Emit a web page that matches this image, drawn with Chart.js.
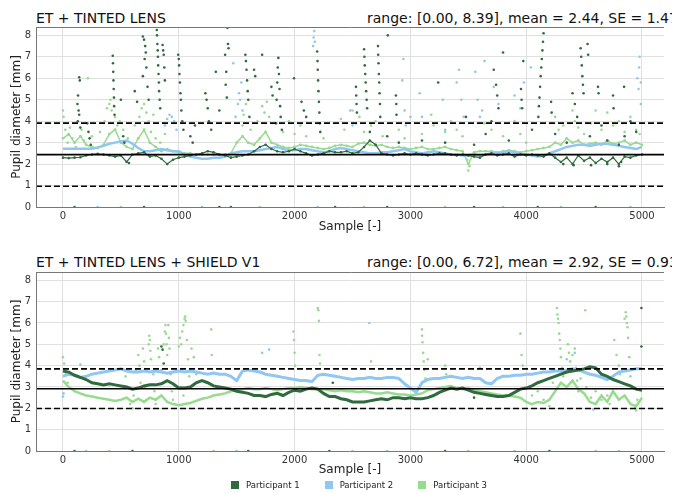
<!DOCTYPE html>
<html>
<head>
<meta charset="utf-8">
<script src="https://cdn.jsdelivr.net/npm/chart.js@4.4.1/dist/chart.umd.min.js"></script>
<style>
  body { margin: 0; width: 682px; height: 493px; overflow: hidden; background: #fff; position: relative; font-family: "DejaVu Sans", sans-serif; }
  .title { position: absolute; font-size: 14px; color: #111; white-space: nowrap; overflow: hidden; }
  canvas { position: absolute; left: 0; }
  #legend { position: absolute; top: 480px; left: 231px; font-size: 8.5px; color: #222; white-space: nowrap; }
  #legend span.box { display: inline-block; width: 8px; height: 8px; vertical-align: -1px; margin-right: 7px; }
  #legend span.lab { margin-right: 25px; }
</style>
</head>
<body>
<div class="title" style="left:36px;top:10px">ET + TINTED LENS</div>
<div class="title" style="left:367px;top:10px;width:305px">range: [0.00, 8.39], mean = 2.44, SE = 1.47</div>
<canvas id="top-chart" width="682" height="240" style="top:0"></canvas>
<div class="title" style="left:36px;top:254px">ET + TINTED LENS + SHIELD V1</div>
<div class="title" style="left:367px;top:254px;width:305px">range: [0.00, 6.72], mean = 2.92, SE = 0.93</div>
<canvas id="bottom-chart" width="682" height="240" style="top:245px"></canvas>
<div id="legend"></div>
<script>
var participants = ['Participant 1', 'Participant 2', 'Participant 3'];
var colors = ['#2f6b3e', '#8fc6f3', '#97dc8e'];
var sampleTicks = [0, 1000, 2000, 3000, 4000, 5000];
var yTicks = [0, 1, 2, 3, 4, 5, 6, 7, 8];
var xMin = -233, xMax = 5190, yMax = 8.39;

// mean and SE of each condition
var topStats = [2.44, 1.47];
var bottomStats = [2.92, 0.93];

// band values read every 50 samples (0 .. 5000)
var topP1Band = [2.3, 2.28, 2.3, 2.32, 2.4, 2.45, 2.48, 2.45, 2.4, 2.35,
  2.4, 2.1, 2.45, 2.5, 2.55, 2.35, 2.4, 2.25, 2.0, 2.2,
  2.3, 2.35, 2.4, 2.45, 2.5, 2.6, 2.55, 2.45, 2.4, 2.3,
  2.35, 2.4, 2.45, 2.6, 2.8, 2.9, 2.7, 2.6, 2.55, 2.6,
  2.7, 2.6, 2.5, 2.4, 2.45, 2.5, 2.6, 2.55, 2.55, 2.6,
  2.5, 2.55, 2.8, 3.1, 2.9, 2.5, 2.45, 2.4, 2.45, 2.5,
  2.45, 2.5, 2.45, 2.4, 2.45, 2.5, 2.5, 2.45, 2.4, 2.45,
  2.4, 2.35, 2.3, 2.45, 2.5, 2.4, 2.45, 2.5, 2.35, 2.45,
  2.4, 2.45, 2.4, 2.35, 2.5, 2.3, 2.1, 2.3, 2.0, 2.4,
  2.15, 2.3, 2.05, 2.25, 2.1, 2.3, 2.0, 2.35, 2.3, 2.4,
  2.45];
var topP2Band = [2.72, 2.72, 2.72, 2.72, 2.72, 2.72, 2.78, 2.85, 2.95, 3.0,
  3.05, 3.1, 2.95, 2.75, 2.6, 2.6, 2.65, 2.7, 2.65, 2.6,
  2.6, 2.45, 2.35, 2.3, 2.25, 2.25, 2.3, 2.3, 2.35, 2.5,
  2.55, 2.6, 2.6, 2.6, 2.65, 2.7, 2.75, 2.8, 2.7, 2.65,
  2.65, 2.7, 2.7, 2.65, 2.6, 2.55, 2.6, 2.7, 2.75, 2.7,
  2.65, 2.6, 2.55, 2.5, 2.5, 2.55, 2.55, 2.6, 2.65, 2.7,
  2.6, 2.55, 2.5, 2.55, 2.6, 2.55, 2.5, 2.45, 2.45, 2.4,
  2.4, 2.45, 2.4, 2.45, 2.5, 2.5, 2.55, 2.6, 2.55, 2.5,
  2.45, 2.4, 2.35, 2.4, 2.5, 2.6, 2.7, 2.8, 2.85, 2.9,
  2.9, 2.85, 2.9, 2.95, 2.95, 2.9, 2.85, 2.8, 2.75, 2.7,
  2.8];
var topP3Band = [3.2, 3.4, 3.0, 3.3, 2.9, 2.8, 2.75, 2.9, 3.4, 3.6,
  3.0, 2.8, 2.7, 3.2, 3.6, 3.0, 2.8, 2.6, 2.7, 2.6,
  2.55, 2.5, 2.5, 2.45, 2.45, 2.45, 2.45, 2.45, 2.45, 2.5,
  3.0, 3.3, 3.0, 2.9, 3.2, 3.5, 3.0, 2.9, 2.8, 2.75,
  2.8, 2.9, 2.85, 2.8, 2.75, 2.7, 2.75, 2.85, 2.9, 2.85,
  2.8, 2.95, 3.0, 2.9, 2.85, 2.9, 2.8, 2.75, 2.8, 2.75,
  2.7, 2.75, 2.8, 2.7, 2.7, 2.75, 2.8, 2.7, 2.65, 2.6,
  2.0, 2.55, 2.6, 2.6, 2.6, 2.55, 2.6, 2.65, 2.6, 2.55,
  2.6, 2.65, 2.7, 2.75, 2.8, 3.0, 2.9, 3.2, 3.0, 3.1,
  2.9, 2.95, 3.0, 2.9, 3.1, 2.95, 3.0, 3.1, 2.9, 3.0,
  2.9];
var bottomP1Band = [3.75, 3.7, 3.55, 3.45, 3.35, 3.2, 3.15, 3.1, 3.15, 3.1,
  3.05, 3.0, 2.9, 2.95, 3.05, 3.1, 3.1, 3.15, 3.3, 3.15,
  2.95, 2.95, 3.0, 3.2, 3.3, 3.2, 3.05, 3.0, 2.95, 2.9,
  2.8, 2.75, 2.7, 2.6, 2.6, 2.55, 2.65, 2.7, 2.6, 2.75,
  2.85, 2.8, 2.9, 2.95, 2.9, 2.7, 2.55, 2.55, 2.45, 2.4,
  2.3, 2.3, 2.3, 2.35, 2.4, 2.45, 2.4, 2.5, 2.5, 2.45,
  2.5, 2.45, 2.45, 2.5, 2.6, 2.75, 2.85, 2.95, 2.9, 2.95,
  2.85, 2.75, 2.7, 2.65, 2.6, 2.55, 2.55, 2.6, 2.75, 2.9,
  2.95, 3.05, 3.2, 3.3, 3.4, 3.5, 3.6, 3.7, 3.75, 3.8,
  3.85, 3.95, 3.9, 3.6, 3.5, 3.35, 3.25, 3.15, 3.05, 2.9,
  2.85];
var bottomP2Band = [3.5, 3.6, 3.55, 3.45, 3.5, 3.6, 3.65, 3.7, 3.75, 3.8,
  3.85, 3.75, 3.7, 3.7, 3.75, 3.7, 3.75, 3.7, 3.65, 3.7,
  3.75, 3.7, 3.75, 3.7, 3.65, 3.6, 3.65, 3.6, 3.6, 3.5,
  3.3, 3.75, 3.8, 3.75, 3.7, 3.6, 3.55, 3.5, 3.45, 3.4,
  3.35, 3.3, 3.3, 3.25, 3.55, 3.6, 3.55, 3.5, 3.45, 3.4,
  3.35, 3.4, 3.4, 3.45, 3.4, 3.4, 3.45, 3.45, 3.4, 3.15,
  2.95, 2.75, 3.2, 3.35, 3.4, 3.4, 3.45, 3.5, 3.45, 3.4,
  3.45, 3.4, 3.4, 3.2, 3.15, 3.4, 3.5, 3.5, 3.55, 3.55,
  3.6, 3.6, 3.65, 3.7, 3.7, 3.75, 3.75, 3.8, 3.85, 3.8,
  3.7, 3.6, 3.55, 3.45, 3.35, 3.5, 3.7, 3.75, 3.8, 3.85,
  3.85];
var bottomP3Band = [3.3, 3.0, 2.8, 2.7, 2.6, 2.55, 2.5, 2.45, 2.4, 2.35,
  2.4, 2.5, 2.3, 2.45, 2.3, 2.5, 2.4, 2.6, 2.3, 2.2,
  2.15, 2.2, 2.25, 2.35, 2.45, 2.5, 2.6, 2.65, 2.7, 2.8,
  2.85, 2.9, 2.95, 2.9, 2.9, 2.95, 2.9, 2.85, 2.9, 2.95,
  2.95, 3.0, 2.95, 2.9, 2.9, 2.9, 2.85, 2.8, 2.85, 2.8,
  2.8, 2.75, 2.8, 2.75, 2.7, 2.7, 2.75, 2.7, 2.65, 2.65,
  2.6, 2.65, 2.7, 2.85, 2.9, 2.95, 3.0, 3.05, 2.95, 2.9,
  2.95, 2.85, 2.8, 2.75, 2.7, 2.65, 2.6, 2.6, 2.55, 2.5,
  2.3, 2.2, 2.3, 2.25, 2.4, 2.8, 3.2, 3.0, 3.3, 2.9,
  2.7, 2.3, 2.2, 2.6, 2.3, 2.8, 2.4, 2.6, 2.2, 2.1,
  2.5];

// scattered samples [sample, diameter] read from the spikes
var topP1Dots = [[140,6.05],[145,5.9],[130,5.2],[125,4.8],[135,4.5],[140,4.3],[128,4.0],[150,3.7],
  [210,3.9],[220,3.5],[230,3.2],[240,2.9],
  [430,7.05],[432,6.7],[434,6.3],[436,5.9],[438,5.5],[440,5.1],[442,4.7],[445,4.3],
  [500,5.0],[520,3.3],[530,3.0],[570,2.05],[620,5.4],[640,4.9],
  [690,7.95],[700,7.8],[710,7.5],[715,7.2],[705,6.9],[720,6.5],[690,6.1],[730,5.6],[740,5.0],
  [810,8.25],[812,8.0],[815,7.6],[818,7.3],[820,7.0],[822,6.6],[825,6.2],[828,5.8],[830,5.4],[835,5.0],[840,4.6],
  [860,7.55],[865,7.3],[870,7.1],[875,6.5],[880,5.9],
  [995,7.1],[1000,6.9],[1003,6.6],[1006,6.2],[1010,5.8],[1014,5.3],[1018,5.0],[1022,4.5],[1030,4.0],[1040,3.6],
  [1100,3.3],[1120,3.0],[1140,3.8],[1230,5.3],[1240,5.0],[1250,4.6],[1260,4.0],[1280,3.6],
  [1320,6.3],[1350,4.5],[1420,8.35],[1425,7.6],[1430,7.4],[1400,7.1],[1410,6.3],[1405,5.7],[1415,5.1],
  [1575,7.1],[1580,6.8],[1585,6.4],[1590,5.9],[1595,5.4],[1600,5.0],[1610,4.2],
  [1650,6.4],[1660,6.1],[1720,7.1],[1800,5.6],[1810,5.2],
  [1860,6.95],[1855,6.5],[1865,6.2],[1850,5.8],[1870,5.5],[1845,5.0],[1875,4.7],[1880,4.2],[1840,3.9],[1890,3.6],
  [1995,6.0],[2060,4.9],[2080,4.5],[2100,4.2],
  [2195,7.25],[2198,6.8],[2200,6.4],[2203,5.9],[2206,5.4],[2210,4.9],[2214,4.4],[2218,3.9],[2222,3.5],
  [2530,5.6],[2532,5.2],[2535,4.8],[2538,4.4],
  [2600,7.35],[2603,7.0],[2606,6.6],[2610,6.2],[2614,5.8],[2618,5.4],[2622,5.0],[2626,4.6],
  [2720,7.5],[2722,7.1],[2725,6.7],[2728,6.2],[2731,5.8],[2734,5.3],[2737,4.8],[2740,4.2],
  [2805,8.0],[2875,5.2],[2878,4.8],[2880,4.3],[3240,5.8],[3480,4.2],
  [3720,6.4],[3740,5.7],[3750,5.2],[3760,4.6],[3700,4.0],[3800,7.2],
  [3955,5.5],[3960,5.0],[3965,4.6],[3975,6.8],
  [4150,8.1],[4145,7.7],[4140,7.3],[4135,6.9],[4130,6.5],[4125,6.1],[4120,5.6],[4115,5.1],[4110,4.7],[4105,4.2],
  [4215,4.9],[4220,4.4],[4400,5.3],[4420,4.8],[4440,4.2],
  [4470,7.4],[4475,7.0],[4480,6.6],[4485,6.1],[4490,5.7],[4495,5.3],[4530,7.6],[4535,7.1],
  [4620,5.6],[4625,5.3],[4750,5.2],[4755,4.6],[4845,5.6],[4900,4.0],[4950,3.5],
  [2650,3.5],[2800,3.3],[2900,3.0],[3100,3.1],[3300,3.0],[3550,2.9],[3650,3.4],[3850,3.1],
  [4050,3.6],[4250,3.4],[4350,3.0],[4550,3.3],[4650,3.8],[4700,3.1],[4800,2.9],[4850,3.3],
  [4320,2.0],[4410,1.95],[4560,1.95],[4700,2.0],[4800,1.9],[4820,2.1],
  [100,0],[700,0],[1350,0],[1450,0],[2350,0],[2800,0],[3550,0],[4100,0],[4600,0]];
var topP2Dots = [[880,3.8],[900,4.1],[920,4.3],[940,4.2],[960,4.0],[980,3.6],
  [1490,4.2],[1510,4.8],[1520,5.3],[1530,5.0],[1540,5.8],[1550,4.5],[1470,6.7],
  [2160,7.5],[2165,7.9],[2170,8.2],[2175,7.7],[2480,4.5],[2500,3.8],
  [2930,5.9],[2940,6.9],[2950,4.5],[2960,3.8],[3000,4.2],[3080,5.3],[3100,4.2],[3280,5.0],[3300,3.6],
  [3400,5.8],[3420,6.4],[3440,5.0],[3460,4.2],[3560,6.3],[3580,5.0],[3600,4.2],[3640,6.8],
  [3720,5.6],[3760,4.8],[3900,5.2],[3950,4.6],[3980,5.8],[4040,6.5],
  [4960,6.0],[4970,5.5],[4975,6.5],[4980,7.0],[4990,4.8],[4990,5.8],
  [300,0],[1200,0],[2200,0],[3800,0],[4900,0]];
var topP3Dots = [[0,4.5],[5,4.2],[20,3.6],[40,3.0],[60,3.7],[80,3.2],[110,2.8],[160,3.6],[180,3.1],[250,3.3],[215,6.0],
  [320,3.5],[360,4.0],[380,4.6],[400,4.8],[410,5.0],[420,4.5],[450,4.2],[470,3.8],[490,4.0],[520,3.6],[560,3.2],
  [620,3.8],[660,4.2],[680,4.6],[700,4.8],[720,4.4],[740,4.0],[760,3.5],[780,4.3],[800,3.2],[840,3.0],[880,3.4],
  [1550,3.8],[1560,4.3],[1580,4.8],[1620,3.6],[1680,4.0],[1720,4.7],[1740,4.4],[1760,4.9],[1780,4.2],
  [1900,3.5],[1950,4.0],[2000,3.4],[2050,3.8],[2100,3.3],[2250,3.2],[2400,4.1],[2430,3.6],[2500,4.5],[2530,3.9],
  [2560,4.2],[2600,3.5],[2660,3.8],[2700,4.0],[2760,3.3],[2900,3.6],[2950,3.2],[3100,3.4],[3180,4.3],[3200,3.8],
  [3300,3.5],[3350,4.0],[3400,3.6],[3450,3.3],[3500,1.7],[3510,1.9],[3490,2.2],[3620,4.5],[3640,3.9],[3700,3.6],
  [3800,3.3],[3900,4.0],[3950,3.4],[4000,3.0],[4250,4.2],[4280,3.6],[4320,3.8],[4400,4.5],[4420,4.0],[4450,3.7],
  [4500,3.4],[4560,3.9],[4600,4.5],[4650,3.6],[4700,4.4],[4750,3.8],[4800,4.0],[4850,3.5],[4900,4.2],[4950,3.6],[4980,3.4],
  [500,0],[1700,0],[2600,0],[3300,0],[4300,0]];
var bottomP1Dots = [[850,4.9],[860,4.75],[870,4.1],[2330,3.2],[3550,2.5],[4995,6.7],[4995,4.9],
  [100,0],[600,0],[1600,0],[2300,0],[3300,0],[4200,0]];
var bottomP2Dots = [[0,2.55],[5,2.7],[150,4.05],[1720,4.6],[1780,4.75],[2645,6.0],[4350,4.3],[4420,4.6],[4580,1.95],
  [200,0],[1500,0],[2800,0],[3900,0],[4800,0]];
var bottomP3Dots = [[0,4.4],[10,4.1],[25,3.6],[40,3.2],
  [540,3.5],[560,3.0],[580,2.2],[600,2.0],[610,2.6],
  [630,3.8],[650,4.5],[660,4.0],[670,3.2],[690,4.8],[700,4.2],[710,3.0],[720,2.4],
  [740,5.0],[745,5.4],[750,5.2],[755,4.7],[760,4.3],[780,3.6],[790,2.8],[800,2.2],
  [820,4.8],[830,4.4],[850,3.8],[860,3.2],[870,5.0],[880,5.6],[885,5.9],[890,5.5],[895,5.0],[900,4.5],
  [910,5.9],[915,5.3],[920,4.8],[930,3.6],[940,2.8],[950,2.4],
  [1000,4.9],[1010,5.3],[1020,5.0],[1030,5.6],[1040,5.9],[1050,6.2],[1055,6.3],[1060,6.1],[1070,5.2],[1080,4.3],
  [1090,3.5],[1020,3.0],[1040,2.6],[1110,4.8],[1130,4.4],[1150,3.6],[1280,5.7],[1285,4.5],
  [1990,5.6],[1995,5.2],[2000,4.6],[2005,4.0],[2200,6.7],[2205,6.6],[2210,6.1],[2215,4.5],[2220,4.1],[2660,4.2],
  [3100,5.7],[3102,5.4],[3105,5.1],[3110,4.6],[3115,4.2],[3120,3.8],[3130,3.4],[3150,4.3],
  [3300,4.0],[3310,3.6],[3600,3.9],[3950,5.5],[3960,4.5],[3970,4.0],
  [4020,3.0],[4050,2.6],[4100,2.8],[4150,2.4],[4200,2.1],[4230,3.2],
  [4265,6.7],[4270,6.4],[4275,6.2],[4280,6.0],[4285,5.5],[4290,5.2],[4295,4.8],[4300,4.4],[4310,3.9],[4320,3.5],
  [4360,5.0],[4370,4.6],[4380,4.2],[4400,4.5],[4420,4.8],[4430,3.9],[4440,3.3],[4450,2.8],[4470,3.4],[4510,6.6],
  [4520,3.0],[4560,2.5],[4600,2.8],[4650,2.4],[4700,2.6],[4720,2.2],
  [4760,5.2],[4780,4.5],[4800,4.0],[4810,3.6],
  [4850,6.2],[4860,6.5],[4865,6.3],[4870,6.0],[4875,5.8],[4880,5.3],[4890,4.4],[4900,3.5],[4920,3.0],[4940,2.0],[4950,1.9],[4960,2.4],
  [400,0],[1300,0],[2500,0],[3500,0],[4600,0]];

var bandSamples = [];
for (var s = 0; s <= 5000; s += 50) bandSamples.push(s);

function bandPoints(values) {
    return values.map(function(v, i) { return {x: bandSamples[i], y: v}; });
}
function dotPoints(pairs) {
    return pairs.map(function(p) { return {x: p[0], y: p[1]}; });
}
function refLine(y, dashed) {
    return {
        data: [{x: xMin, y: y}, {x: xMax, y: y}],
        showLine: true, borderColor: '#000', borderWidth: 1.6,
        borderDash: dashed ? [6, 3] : [], pointRadius: 0, order: 0
    };
}
function bandSet(values, idx, width, pts) {
    return {
        data: bandPoints(values), showLine: true, borderColor: colors[idx],
        borderWidth: width, pointRadius: pts, backgroundColor: colors[idx],
        pointBorderWidth: 0, order: idx + 1
    };
}
function dotSet(pairs, idx) {
    return {
        data: dotPoints(pairs), showLine: false, backgroundColor: colors[idx],
        pointRadius: 1.3, pointBorderWidth: 0, order: idx + 1
    };
}

var framePlugin = {
    id: 'frame',
    afterDraw: function(chart) {
        var ctx = chart.ctx, a = chart.chartArea;
        ctx.save();
        ctx.strokeStyle = '#777';
        ctx.lineWidth = 1;
        ctx.beginPath();
        ctx.moveTo(a.left + 0.5, a.bottom);
        ctx.lineTo(a.left + 0.5, a.top + 0.5);
        ctx.lineTo(a.right, a.top + 0.5);
        ctx.stroke();
        ctx.restore();
    }
};

function makeConfig(datasets, xHeight, titlePad) {
    return {
        type: 'scatter',
        data: {datasets: datasets},
        plugins: [framePlugin],
        options: {
            responsive: false,
            animation: false,
            layout: {padding: {top: 27, right: 18, left: 0, bottom: 0}},
            plugins: {legend: {display: false}, tooltip: {enabled: false}},
            scales: {
                x: {
                    type: 'linear', min: xMin, max: xMax,
                    afterBuildTicks: function(scale) { scale.ticks = sampleTicks.map(function(v) { return {value: v}; }); },
                    afterFit: function(scale) { scale.height = xHeight; },
                    grid: {color: '#e0e0e0', drawTicks: false},
                    border: {color: '#777'},
                    ticks: {padding: 3, color: '#333', font: {size: 10, family: 'DejaVu Sans'}, maxRotation: 0, autoSkip: false,
                            callback: function(v) { return String(v); }},
                    title: {display: true, text: 'Sample [-]', color: '#222', font: {size: 12, family: 'DejaVu Sans'},
                            padding: {top: 0, bottom: titlePad}}
                },
                y: {
                    min: 0, max: yMax,
                    afterBuildTicks: function(scale) { scale.ticks = yTicks.map(function(v) { return {value: v}; }); },
                    afterFit: function(scale) { scale.width = 36; },
                    grid: {color: '#e0e0e0', drawTicks: false},
                    border: {color: '#777'},
                    ticks: {padding: 5, color: '#333', font: {size: 10, family: 'DejaVu Sans'},
                            callback: function(v) { return String(v); }},
                    title: {display: true, text: 'Pupil diameter [mm]', color: '#222', font: {size: 12, family: 'DejaVu Sans'},
                            padding: {top: 10, bottom: 0}}
                }
            }
        }
    };
}

var topDatasets = [
    refLine(topStats[0], false),
    refLine(topStats[0] + topStats[1], true),
    refLine(topStats[0] - topStats[1], true),
    bandSet(topP1Band, 0, 1.2, 1.3), dotSet(topP1Dots, 0),
    bandSet(topP2Band, 1, 2.5, 0), dotSet(topP2Dots, 1),
    bandSet(topP3Band, 2, 1.5, 1.4), dotSet(topP3Dots, 2)
];
var bottomDatasets = [
    refLine(bottomStats[0], false),
    refLine(bottomStats[0] + bottomStats[1], true),
    refLine(bottomStats[0] - bottomStats[1], true),
    bandSet(bottomP1Band, 0, 3, 0), dotSet(bottomP1Dots, 0),
    bandSet(bottomP2Band, 1, 3, 0), dotSet(bottomP2Dots, 1),
    bandSet(bottomP3Band, 2, 2.5, 0), dotSet(bottomP3Dots, 2)
];

window.onload = function() {
    var ctx1 = document.getElementById('top-chart').getContext('2d');
    window.topChart = new Chart(ctx1, makeConfig(topDatasets, 33, 6));
    var ctx2 = document.getElementById('bottom-chart').getContext('2d');
    window.bottomChart = new Chart(ctx2, makeConfig(bottomDatasets, 34, 8));

    var legend = document.getElementById('legend');
    var html = '';
    for (var i = 0; i < participants.length; i++) {
        html += '<span class="box" style="background:' + colors[i] + '"></span><span class="lab">' + participants[i] + '</span>';
    }
    legend.innerHTML = html;
};
</script>
</body>
</html>
